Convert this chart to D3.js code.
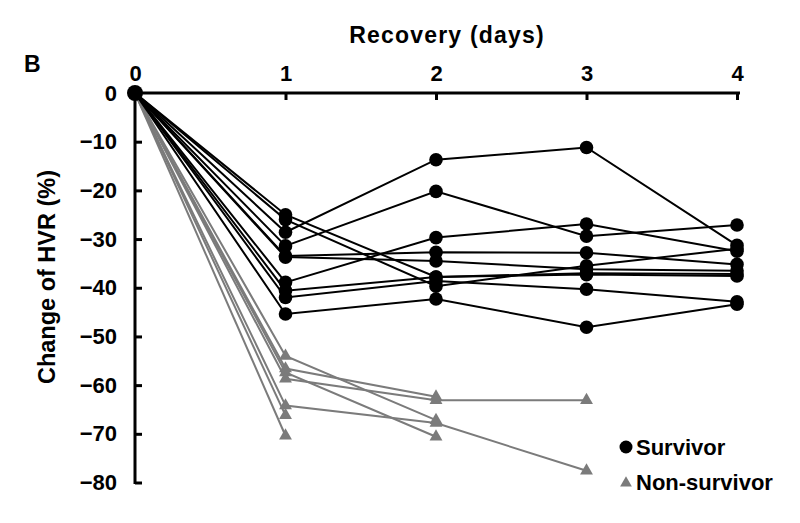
<!DOCTYPE html>
<html>
<head>
<meta charset="utf-8">
<script src="https://cdn.jsdelivr.net/npm/d3@7"></script>
<style>
  html, body { margin: 0; padding: 0; background: #fff; }
  svg { display: block; font-family: "Liberation Sans", Arial, sans-serif; font-weight: bold; }
</style>
</head>
<body>
<svg id="chart" width="800" height="523"></svg>
<script>
// ---- data ----
const days = [0, 1, 2, 3, 4];
const yTickValues = [0, -10, -20, -30, -40, -50, -60, -70, -80];
const xTickValues = [0, 1, 2, 3, 4];

// Survivors (change of HVR, %) on days 0..4
const survivor1  = [0, -28.6, -13.7, -11.2, -31.3];
const survivor2  = [0, -31.4, -20.2, -29.4, -27.1];
const survivor3  = [0, -38.9, -29.7, -26.9, -32.5];
const survivor4  = [0, -33.5, -32.7, -32.8, -35.2];
const survivor5  = [0, -33.7, -34.5, -36.2, -36.5];
const survivor6  = [0, -25.0, -37.8, -37.3, -37.6];
const survivor7  = [0, -26.0, -39.7, -35.5, -32.0];
const survivor8  = [0, -40.6, -37.8, -37.0, -37.2];
const survivor9  = [0, -42.0, -38.6, -40.3, -42.9];
const survivor10 = [0, -45.4, -42.3, -48.1, -43.4];
const survivors = [survivor1, survivor2, survivor3, survivor4, survivor5,
                   survivor6, survivor7, survivor8, survivor9, survivor10];

// Non-survivors (series end when patient died)
const nonSurvivor1 = [0, -54.0, -67.2];
const nonSurvivor2 = [0, -56.6, -62.4];
const nonSurvivor3 = [0, -57.4, -70.6];
const nonSurvivor4 = [0, -58.7, -63.1, -63.1];
const nonSurvivor5 = [0, -64.2, -67.8, -77.6];
const nonSurvivor6 = [0, -66.2];
const nonSurvivor7 = [0, -70.4];
const nonSurvivors = [nonSurvivor1, nonSurvivor2, nonSurvivor3, nonSurvivor4,
                      nonSurvivor5, nonSurvivor6, nonSurvivor7];

const legendLabels = ["Survivor", "Non-survivor"];

// ---- drawing ----
const svg = d3.select("#chart");
const x = d3.scaleLinear().domain([0, 4]).range([135, 737]);
const y = d3.scaleLinear().domain([-80, 0]).range([482.5, 93]);

const blackC = "#000000";
const greyC = "#7b7b7b";

const toPts = vals => vals.map((v, i) => [days[i], v]);
const line = d3.line().x(d => x(d[0])).y(d => y(d[1]));
const tri = d3.symbol().type(d3.symbolTriangle).size(72);

// non-survivors (grey)
const gN = svg.append("g");
nonSurvivors.forEach(s => {
  gN.append("path").attr("d", line(toPts(s)))
    .attr("fill", "none").attr("stroke", greyC).attr("stroke-width", 2);
});
nonSurvivors.forEach(s => {
  toPts(s).slice(1).forEach(p => {
    gN.append("path").attr("d", tri)
      .attr("transform", `translate(${x(p[0])},${y(p[1])})`)
      .attr("fill", greyC);
  });
});

// survivors (black)
const gS = svg.append("g");
survivors.forEach(s => {
  gS.append("path").attr("d", line(toPts(s)))
    .attr("fill", "none").attr("stroke", blackC).attr("stroke-width", 2);
});
survivors.forEach(s => {
  toPts(s).slice(1).forEach(p => {
    gS.append("circle").attr("cx", x(p[0])).attr("cy", y(p[1])).attr("r", 6.8)
      .attr("fill", blackC);
  });
});

// axes
const yAxis = d3.axisLeft(y).tickValues(yTickValues).tickSizeInner(-7).tickSizeOuter(0)
  .tickPadding(18).tickFormat(d3.format("d"));
const gy = svg.append("g").attr("transform", `translate(${x(0)},0)`).call(yAxis);
gy.select(".domain").attr("stroke-width", 3).attr("d", `M0,${y(0)}V${y(-80) + 1.5}`);
gy.selectAll(".tick line").attr("stroke-width", 3);
gy.selectAll(".tick text").attr("font-size", 22).attr("font-weight", "bold")
  .attr("font-family", "Liberation Sans, Arial, sans-serif").attr("fill", "#000");

const xAxis = d3.axisTop(x).tickValues(xTickValues).tickSizeInner(-7).tickSizeOuter(0)
  .tickPadding(12).tickFormat(d3.format("d"));
const gx = svg.append("g").attr("transform", `translate(0,${y(0)})`).call(xAxis);
gx.select(".domain").attr("stroke-width", 3).attr("d", `M${x(0)},0H${x(4) + 3}`);
gx.selectAll(".tick line").attr("stroke-width", 3);
gx.selectAll(".tick text").attr("font-size", 22).attr("font-weight", "bold")
  .attr("font-family", "Liberation Sans, Arial, sans-serif").attr("fill", "#000");

// origin marker
svg.append("circle").attr("cx", x(0)).attr("cy", y(0)).attr("r", 8).attr("fill", blackC);

// titles
svg.append("text").attr("x", 447).attr("y", 43).attr("text-anchor", "middle")
  .attr("font-size", 23).attr("letter-spacing", 1.2).text("Recovery (days)");
svg.append("text").attr("x", 24).attr("y", 72).attr("font-size", 23).text("B");
svg.append("text").attr("transform", "translate(55,277) rotate(-90)")
  .attr("text-anchor", "middle").attr("font-size", 23.5).text("Change of HVR (%)");

// legend
const lg = svg.append("g");
lg.append("circle").attr("cx", 626).attr("cy", 447).attr("r", 6.5).attr("fill", blackC);
lg.append("text").attr("x", 636).attr("y", 455).attr("font-size", 22).text(legendLabels[0]);
lg.append("path").attr("d", d3.symbol().type(d3.symbolTriangle).size(60))
  .attr("transform", "translate(626,483)").attr("fill", greyC);
lg.append("text").attr("x", 636).attr("y", 490).attr("font-size", 22).text(legendLabels[1]);
</script>
</body>
</html>
